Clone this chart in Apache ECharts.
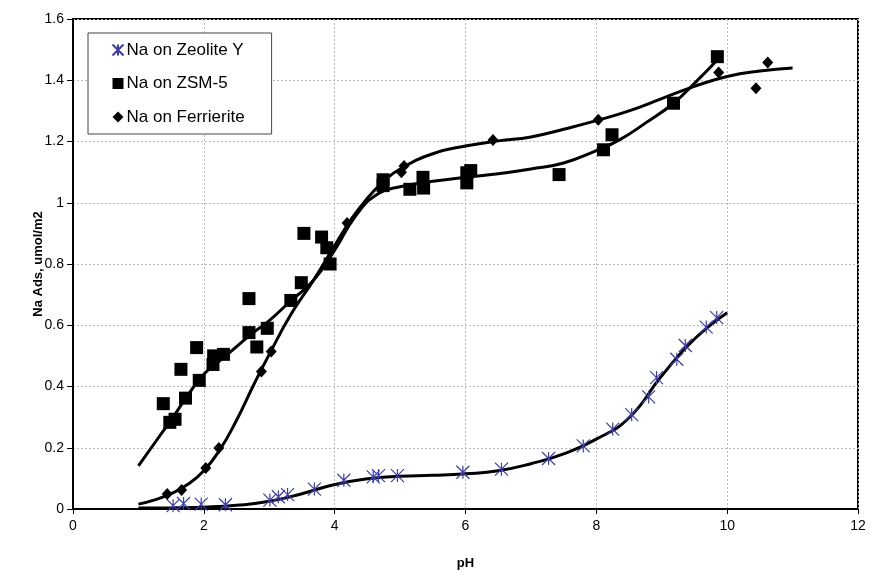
<!DOCTYPE html>
<html>
<head>
<meta charset="utf-8">
<script src="https://cdn.jsdelivr.net/npm/echarts@6/dist/echarts.min.js"></script>
<style>html,body{margin:0;padding:0;background:#fff;}#c{width:870px;height:575px;}</style>
</head>
<body>
<div id="c"></div>
<script>
// Measured points
var zeoX = [1.53,1.69,1.96,2.33,3.01,3.14,3.28,3.69,4.14,4.59,4.67,4.96,5.96,6.55,7.27,7.80,8.25,8.54,8.80,8.92,9.23,9.36,9.68,9.84];
var zeoY = [0.011,0.018,0.016,0.014,0.029,0.040,0.047,0.065,0.094,0.105,0.109,0.109,0.120,0.130,0.165,0.206,0.261,0.308,0.366,0.429,0.489,0.534,0.594,0.625];
var zsmX = [1.38,1.48,1.56,1.65,1.72,1.89,1.93,2.14,2.15,2.30,2.69,2.69,2.81,2.97,3.33,3.49,3.53,3.80,3.88,3.93,4.74,4.74,5.15,5.35,5.36,6.02,6.02,6.08,7.43,8.11,8.24,9.18,9.85];
var zsmY = [0.344,0.283,0.293,0.456,0.362,0.527,0.420,0.472,0.500,0.505,0.687,0.576,0.529,0.590,0.681,0.739,0.900,0.888,0.853,0.800,1.075,1.056,1.044,1.083,1.048,1.065,1.098,1.105,1.092,1.173,1.222,1.325,1.477];
var ferX = [1.44,1.66,2.03,2.23,2.88,3.03,4.19,5.02,5.06,6.42,8.03,9.87,10.44,10.62];
var ferY = [0.049,0.062,0.134,0.199,0.449,0.514,0.934,1.100,1.120,1.205,1.271,1.425,1.374,1.458];
// Trend curves
var zeoCurveX = [1,1.5,2,2.5,3,3.5,4,4.5,5,5.5,6,6.5,7,7.5,8,8.5,9,9.5,10];
var zeoCurveY = [0.003,0.004,0.006,0.012,0.025,0.050,0.080,0.099,0.107,0.110,0.115,0.125,0.148,0.180,0.228,0.298,0.435,0.555,0.641];
var zsmCurveX = [1,1.33,1.5,1.75,2,2.25,2.5,2.75,3,3.33,3.67,4,4.33,4.67,5,5.5,6,6.5,7,7.5,8,8.36,8.75,9.18,9.5,9.85];
var zsmCurveY = [0.141,0.240,0.290,0.370,0.440,0.485,0.530,0.575,0.615,0.680,0.745,0.845,0.960,1.030,1.052,1.070,1.083,1.095,1.110,1.130,1.170,1.206,1.260,1.325,1.390,1.466];
var ferCurveX = [1,1.25,1.5,1.75,2,2.25,2.5,2.75,3,3.33,3.67,4,4.25,4.5,4.75,5,5.5,6,6.5,7,7.5,8,8.5,9,9.5,10,10.5,11];
var ferCurveY = [0.016,0.030,0.050,0.080,0.125,0.195,0.290,0.400,0.505,0.635,0.745,0.860,0.945,1.015,1.070,1.110,1.160,1.185,1.202,1.215,1.240,1.268,1.300,1.340,1.380,1.412,1.430,1.440];
var seriesNames = ['Na on Zeolite Y','Na on ZSM-5','Na on Ferrierite'];

function pairs(xs, ys){ return xs.map(function(x,i){ return [x, ys[i]]; }); }

var asterisk = 'path://M0,0L10,10M10,0L0,10M5,0L5,10';
var font = 'Liberation Sans, Arial, sans-serif';

var chart = echarts.init(document.getElementById('c'));
chart.setOption({
  animation: false,
  grid: {left: 73, right: 12, top: 19, bottom: 63, show: true, borderColor: '#000', borderWidth: 2},
  legend: {
    data: seriesNames,
    orient: 'vertical', left: 88, top: 33,
    backgroundColor: '#fff', borderColor: '#444', borderWidth: 1,
    padding: [8.5, 27, 8.5, 22],
    itemWidth: 11, itemHeight: 11, itemGap: 16.5,
    textStyle: {fontFamily: font, fontSize: 17, color: '#000', lineHeight: 17, padding: [0, 0, 0, -2]}
  },
  xAxis: {
    type: 'value', min: 0, max: 12, interval: 2,
    name: 'pH', nameLocation: 'middle', nameGap: 48, nameMoveOverlap: false,
    nameTextStyle: {fontFamily: font, fontSize: 13, fontWeight: 'bold', color: '#000'},
    axisLine: {show: true, lineStyle: {color: '#000', width: 2}},
    axisTick: {show: true, length: 5, lineStyle: {color: '#000', width: 1}},
    axisLabel: {fontFamily: font, fontSize: 14, color: '#000', margin: 10},
    splitLine: {show: true, lineStyle: {color: '#b8b8b8', type: [2, 2], width: 1}}
  },
  yAxis: {
    type: 'value', min: 0, max: 1.6, interval: 0.2,
    name: 'Na Ads, umol/m2', nameLocation: 'middle', nameGap: 28, nameMoveOverlap: false,
    nameTextStyle: {fontFamily: font, fontSize: 13, fontWeight: 'bold', color: '#000'},
    axisLine: {show: true, lineStyle: {color: '#000', width: 2}},
    axisTick: {show: true, length: 6, lineStyle: {color: '#000', width: 1}},
    axisLabel: {fontFamily: font, fontSize: 14, color: '#000', margin: 9},
    splitLine: {show: true, lineStyle: {color: '#b8b8b8', type: [2, 2], width: 1}}
  },
  series: [
    {type: 'line', data: pairs(zeoCurveX, zeoCurveY), smooth: true, showSymbol: false, lineStyle: {color: '#000', width: 3}, z: 2, silent: true},
    {type: 'line', data: pairs(zsmCurveX, zsmCurveY), smooth: true, showSymbol: false, lineStyle: {color: '#000', width: 3}, z: 2, silent: true},
    {type: 'line', data: pairs(ferCurveX, ferCurveY), smooth: true, showSymbol: false, lineStyle: {color: '#000', width: 3}, z: 2, silent: true},
    {name: seriesNames[0], type: 'scatter', data: pairs(zeoX, zeoY), symbol: asterisk, symbolSize: 13,
     itemStyle: {color: 'none', borderColor: '#3c3cb0', borderWidth: 1.2, opacity: 1}, z: 3},
    {name: seriesNames[1], type: 'scatter', data: pairs(zsmX, zsmY), symbol: 'rect', symbolSize: 13,
     itemStyle: {color: '#000', opacity: 1}, z: 3},
    {name: seriesNames[2], type: 'scatter', data: pairs(ferX, ferY), symbol: 'diamond', symbolSize: [11, 12],
     itemStyle: {color: '#000', opacity: 1}, z: 3}
  ]
});
</script>
</body>
</html>
